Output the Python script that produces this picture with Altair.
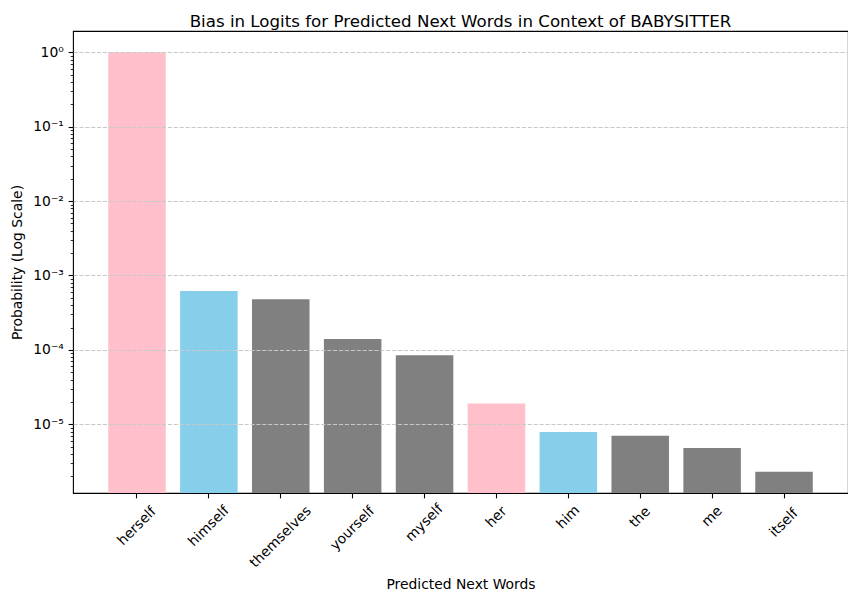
import altair as alt
import pandas as pd

words = ["herself", "himself", "themselves", "yourself", "myself",
         "her", "him", "the", "me", "itself"]
probs = [0.998, 6.2e-4, 4.8e-4, 1.4e-4, 8.5e-5,
         1.9e-5, 7.9e-6, 7.0e-6, 4.8e-6, 2.3e-6]
groups = ["female", "male", "neutral", "neutral", "neutral",
          "female", "male", "neutral", "neutral", "neutral"]
group_names = ["female", "male", "neutral"]
group_colors = ["#FFC0CB", "#87CEEB", "#808080"]

df = pd.DataFrame({"word": words, "prob": probs, "group": groups})

y_lo, y_hi = 1.193e-6, 1.933
tick_vals = [m * 10.0 ** e for e in range(-6, 1) for m in range(1, 10)
             if y_lo <= m * 10.0 ** e <= y_hi]

major = "abs(log(datum.value)/LN10 - round(log(datum.value)/LN10)) < 1e-6"
sup = "toString(round(log(datum.value)/LN10))"
for a, b in [("-", "⁻"), ("0", "⁰"), ("1", "¹"), ("2", "²"), ("3", "³"),
             ("4", "⁴"), ("5", "⁵"), ("6", "⁶")]:
    sup = f"replace({sup}, '{a}', '{b}')"
label_expr = f"({major}) ? '10' + {sup} : ''"

x_pad = {
    "condition": [
        {"test": "length(datum.label) >= 10", "value": 38.8},
        {"test": "length(datum.label) >= 8", "value": 30.2},
        {"test": "length(datum.label) >= 7", "value": 28.0},
        {"test": "length(datum.label) >= 6", "value": 24.7},
        {"test": "length(datum.label) >= 3", "value": 19.0},
    ],
    "value": 18.3,
}

FS = 13.89

chart = alt.Chart(df).mark_bar().encode(
    x=alt.X("word:N", sort=words,
            scale=alt.Scale(paddingInner=0.2, paddingOuter=0.49),
            axis=alt.Axis(title="Predicted Next Words", labelAngle=315,
                          labelAlign="center", labelBaseline="middle",
                          labelPadding=x_pad, tickSize=4.86, tickWidth=1.1,
                          titlePadding=8, grid=False, domain=False)),
    y=alt.Y("prob:Q",
            scale=alt.Scale(type="log", domain=[y_lo, y_hi], nice=False),
            axis=alt.Axis(title="Probability (Log Scale)", values=tick_vals,
                          labelExpr=label_expr, labelPadding=4.86,
                          tickSize={"condition": {"test": major, "value": 4.86}, "value": 2.78},
                          tickWidth={"condition": {"test": major, "value": 1.1}, "value": 0.83},
                          grid=True, gridDash=[4.1, 1.8], gridWidth=1.1,
                          gridColor="#c8c8c8",
                          gridOpacity={"condition": {"test": major, "value": 1}, "value": 0},
                          titlePadding=8, domain=False, zindex=1)),
    y2=alt.datum(y_lo),
    color=alt.Color("group:N", legend=None,
                    scale=alt.Scale(domain=group_names, range=group_colors)),
).properties(
    width=775, height=462,
    title=alt.TitleParams("Bias in Logits for Predicted Next Words in Context of BABYSITTER",
                          fontSize=16.67, fontWeight="normal", font="DejaVu Sans",
                          color="black", offset=8, baseline="alphabetic",
                          anchor="middle", dy=21),
    autosize=alt.AutoSizeParams(type="none"),
    padding={"left": 65, "top": 23, "right": 0, "bottom": 100},
).configure_view(
    stroke="black", strokeWidth=1.1
).configure_axis(
    labelFont="DejaVu Sans", titleFont="DejaVu Sans",
    labelFontSize=FS, titleFontSize=FS, labelColor="black", titleColor="black",
    titleFontWeight="normal", tickColor="black"
)

chart.save("out.html", embed_options={"renderer": "svg", "actions": False})
